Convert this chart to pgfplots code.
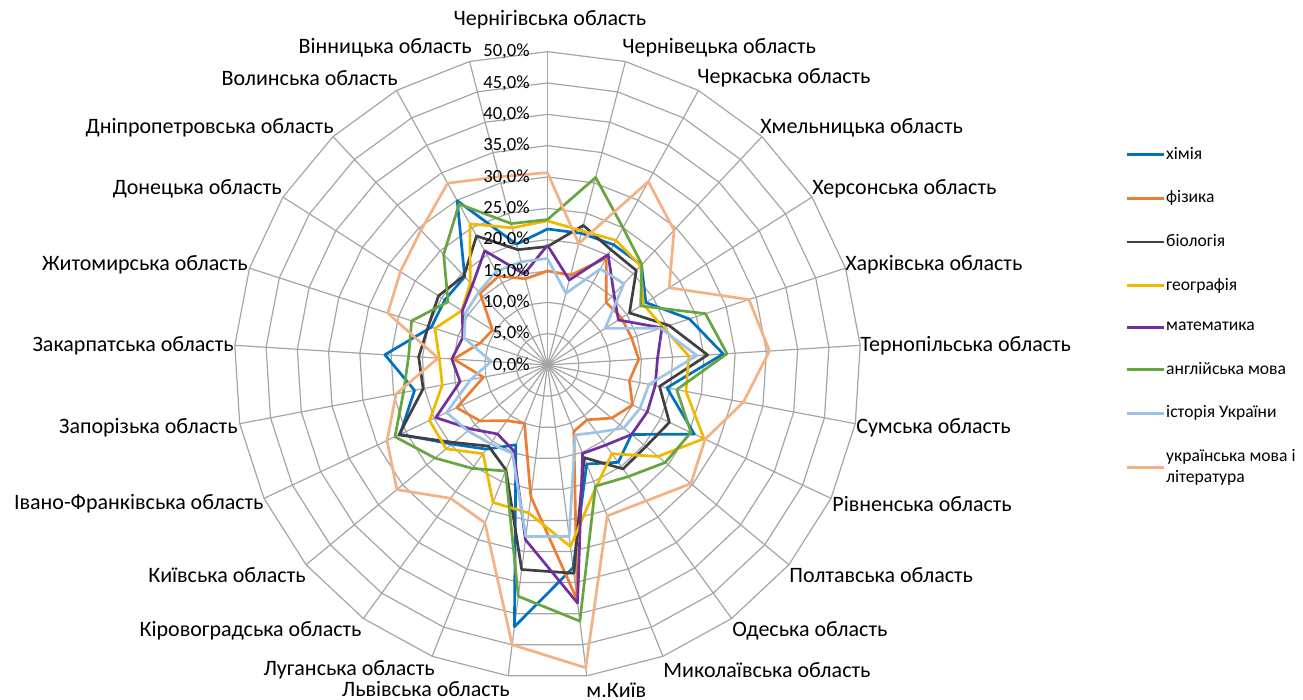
\documentclass[border=0pt]{standalone}
\usepackage{fontspec}
\setmainfont{Carlito}
\usepackage{pgfplots}
\pgfplotsset{compat=1.18}
\usepackage{pgfplotstable}

\definecolor{cchem}{RGB}{0,112,192}
\definecolor{cphys}{RGB}{237,125,49}
\definecolor{cbio}{RGB}{64,64,64}
\definecolor{cgeo}{RGB}{240,185,0}
\definecolor{cmath}{RGB}{112,48,160}
\definecolor{ceng}{RGB}{102,165,64}
\definecolor{chist}{RGB}{157,195,230}
\definecolor{cukr}{RGB}{244,177,131}
\definecolor{gridc}{RGB}{165,165,165}

% i = region index clockwise from top (0 = Chernihiv), values in %
\pgfplotstableread{
i  chem phys bio  geo  math eng  hist ukr
0  21.7 15.0 18.9 23.0 19.1 23.2 17.0 30.7
1  21.7 14.8 23.0 22.1 14.0 30.9 11.8 20.0
2  21.9 19.5 21.0 22.7 20.1 25.0 17.5 33.4
3  21.9 13.7 20.7 21.7 15.5 22.0 17.8 29.5
4  18.6 14.0 15.5 18.1 13.4 17.6 10.9 23.0
5  23.8 14.1 20.4 19.4 19.2 26.5 19.0 33.8
6  28.1 14.6 25.6 22.6 17.6 28.7 23.9 35.5
7  19.4 13.3 18.2 22.5 17.5 21.0 16.5 31.8
8  25.9 15.0 21.5 27.6 17.6 25.3 16.3 27.8
9  17.4 13.3 20.4 22.9 17.4 24.4 15.8 29.7
10 19.2 10.8 20.5 17.5 15.8 22.0 13.3 26.8
11 17.0 11.4 15.9 21.0 15.2 20.8 12.0 25.9
12 32.6 37.8 33.5 29.2 38.3 41.2 27.6 48.7
13 42.1 21.2 32.9 23.8 28.1 37.2 27.6 45.0
14 13.7 10.0 18.0 23.6 14.7 18.2 15.2 27.1
15 16.6 11.0 16.0 17.5 13.6 20.4 15.5 26.3
16 19.8 14.0 19.4 21.0 16.0 23.3 16.5 31.2
17 26.0 16.0 26.2 20.8 19.7 26.9 17.8 28.3
18 21.6 10.4 20.2 17.1 14.2 23.4 12.5 24.6
19 26.0 15.0 20.6 17.3 15.3 22.2 9.0  17.5
20 19.5 11.3 20.0 18.9 14.2 22.8 14.0 26.8
21 19.4 10.4 20.6 16.2 16.1 18.8 15.5 27.8
22 19.3 15.7 19.5 18.0 17.5 24.2 16.0 29.5
23 29.9 16.2 23.5 25.7 20.8 29.3 17.0 33.1
24 19.9 14.2 19.0 22.6 15.0 23.3 17.0 31.0
25 21.7 15.0 18.9 23.0 19.1 23.2 17.0 30.7
}\radar

\newcommand{\radplot}[2]{\addplot[#1] table[x expr={\thisrow{#2}*sin(14.4*\thisrow{i})}, y expr={\thisrow{#2}*cos(14.4*\thisrow{i})}] {\radar};}

\begin{document}
\begin{tikzpicture}[font=\fontsize{11}{13}\selectfont]
\path[use as bounding box] (-273.75pt,-167.5pt) rectangle (377.75pt,182.5pt);
% polygonal grid
\foreach \r in {5,10,...,50}{
  \draw[gridc, line width=0.6pt, line join=round] (90:{\r*3.1333pt}) \foreach \k in {1,...,24}{ -- ({90-14.4*\k}:{\r*3.1333pt}) } -- cycle;
}
\foreach \k in {0,...,24}{
  \draw[gridc, line width=0.6pt] (0,0) -- ({90-14.4*\k}:{50*3.1333pt});
}
\begin{axis}[anchor=origin, at={(0pt,0pt)}, x=3.1333pt, y=3.1333pt,
  xmin=-55, xmax=55, ymin=-55, ymax=55, hide axis, clip=false,
  every axis plot/.append style={line width=1.35pt, line join=round, mark=none},
  legend cell align=left,
  legend style={at={(axis description cs:1.329,0.8283)}, anchor=north west, draw=none, fill=none,
    font=\fontsize{8.8}{10.4}\selectfont, row sep=10.3pt, cells={align=left},
    nodes={inner xsep=0.6pt}},
  legend image code/.code={\draw[#1] (0pt,0pt) -- (18.5pt,0pt);},
]
\radplot{cchem}{chem}\addlegendentry{хімія}
\radplot{cphys}{phys}\addlegendentry{фізика}
\radplot{cbio}{bio}\addlegendentry{біологія}
\radplot{cgeo}{geo}\addlegendentry{географія}
\radplot{cmath}{math}\addlegendentry{математика}
\radplot{ceng}{eng}\addlegendentry{англійська мова}
\radplot{chist}{hist}\addlegendentry{історія України}
\radplot{cukr}{ukr}\addlegendentry{українська мова і\\література}
\end{axis}
% labels placed in pixel-like units (x right, y down), centre at (547.5,365)
\begin{scope}[x=0.5pt, y=-0.5pt, shift={(-273.75pt,182.5pt)}]
\foreach \v/\t in {0/{0,0\%},1/{5,0\%},2/{10,0\%},3/{15,0\%},4/{20,0\%},5/{25,0\%},6/{30,0\%},7/{35,0\%},8/{40,0\%},9/{45,0\%},10/{50,0\%}}{
  \node[anchor=east, inner sep=0pt, font=\fontsize{9.3}{10}\selectfont] at (530,{365-31.333*\v}) {\t};
}
\node[anchor=center, inner sep=0pt] at (550,20) {Чернігівська область};
\node[anchor=west, inner sep=0pt] at (622,48) {Чернівецька область};
\node[anchor=west, inner sep=0pt] at (697,78) {Черкаська область};
\node[anchor=west, inner sep=0pt] at (760,128) {Хмельницька область};
\node[anchor=west, inner sep=0pt] at (812,189) {Херсонська область};
\node[anchor=west, inner sep=0pt] at (845,265) {Харківська область};
\node[anchor=west, inner sep=0pt] at (860,346) {Тернопільська область};
\node[anchor=west, inner sep=0pt] at (856,428) {Сумська область};
\node[anchor=west, inner sep=0pt] at (832,504) {Рівненська область};
\node[anchor=west, inner sep=0pt] at (789,575) {Полтавська область};
\node[anchor=west, inner sep=0pt] at (732,631) {Одеська область};
\node[anchor=west, inner sep=0pt] at (663,670) {Миколаївська область};
\node[anchor=west, inner sep=0pt] at (586,690) {м.Київ};
\node[anchor=east, inner sep=0pt] at (510,689) {Львівська область};
\node[anchor=east, inner sep=0pt] at (435,670) {Луганська область};
\node[anchor=east, inner sep=0pt] at (362,631) {Кіровоградська область};
\node[anchor=east, inner sep=0pt] at (306,575) {Київська область};
\node[anchor=east, inner sep=0pt] at (264,504) {Івано-Франківська область};
\node[anchor=east, inner sep=0pt] at (238,428) {Запорізька область};
\node[anchor=east, inner sep=0pt] at (234,346) {Закарпатська область};
\node[anchor=east, inner sep=0pt] at (248,265) {Житомирська область};
\node[anchor=east, inner sep=0pt] at (282,189) {Донецька область};
\node[anchor=east, inner sep=0pt] at (334,128) {Дніпропетровська область};
\node[anchor=east, inner sep=0pt] at (398,78) {Волинська область};
\node[anchor=east, inner sep=0pt] at (472,48) {Вінницька область};
\end{scope}
\end{tikzpicture}
\end{document}
